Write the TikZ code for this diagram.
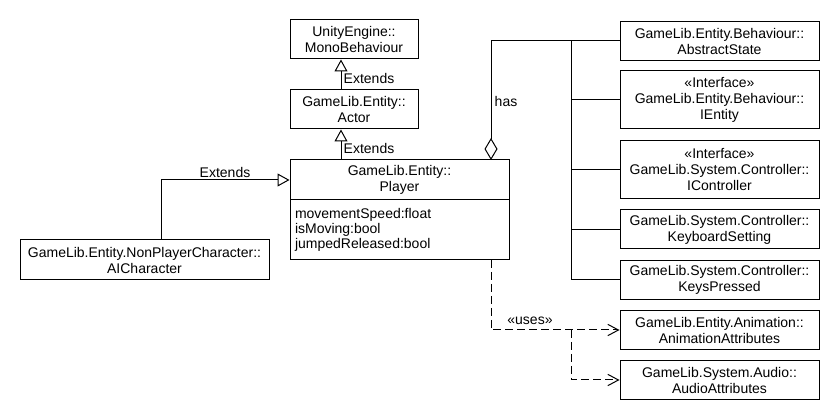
\documentclass[tikz,border=0pt]{standalone}
\usepackage{fontspec}
\setmainfont{Liberation Sans}
\usetikzlibrary{arrows.meta}
\begin{document}
\begin{tikzpicture}[x=0.75pt,y=-0.75pt,
  font=\fontsize{10.5}{12}\selectfont, line width=0.75pt,
  cls/.style={draw, align=center, inner sep=0pt, minimum height=29.25pt},
  mid/.style={cls, minimum width=96pt},
  rbox/.style={cls, minimum width=149.25pt},
  tall/.style={minimum height=43.5pt},
  ext/.style={-{Triangle[open,length=9pt,width=9.75pt]}},
  agg/.style={-{Diamond[open,length=16.5pt,width=9.75pt]}},
  dep/.style={dash pattern=on 6pt off 3pt, -{Straight Barb[length=8pt,width=8.5pt]}},
  lbl/.style={inner sep=1pt}]
\useasboundingbox (0,0) rectangle (840,420);
\fill[white] (0,0) rectangle (840,420);

\node[mid] (mono) at (354,39.5) {UnityEngine::\\MonoBehaviour};
\node[mid] (actor) at (354,109.5) {GameLib.Entity::\\Actor};
\node[cls, minimum width=164.25pt, minimum height=30pt] (player) at (399.5,180) {GameLib.Entity::\\Player};
\node[draw, minimum width=164.25pt, minimum height=45pt, text width=156.75pt, inner xsep=3.75pt, inner ysep=0pt, align=left,
  font=\fontsize{10.5}{11.25}\selectfont] (attr) at (399.5,230) {movementSpeed:float\\isMoving:bool\\jumpedReleased:bool};
\node[cls, minimum width=186.75pt, minimum height=30pt] (ai) at (144.5,260) {GameLib.Entity.NonPlayerCharacter::\\AICharacter};

\node[rbox] (abs) at (719.5,41) {GameLib.Entity.Behaviour::\\AbstractState};
\node[rbox, tall] (ientity) at (719.5,100) {«Interface»\\GameLib.Entity.Behaviour::\\IEntity};
\node[rbox, tall] (icontroller) at (719.5,170) {«Interface»\\GameLib.System.Controller::\\IController};
\node[rbox] (keyboard) at (719.5,229.5) {GameLib.System.Controller::\\KeyboardSetting};
\node[rbox] (keys) at (719.5,280) {GameLib.System.Controller::\\KeysPressed};
\node[rbox] (anim) at (719.5,330) {GameLib.Entity.Animation::\\AnimationAttributes};
\node[rbox] (audio) at (719.5,380) {GameLib.System.Audio::\\AudioAttributes};

% generalisations
\coordinate (e1) at (341,90);
\coordinate (e2) at (341,160);
\coordinate (e3) at (161,240);
\draw[ext] (e1) -- (e1 |- mono.south);
\draw[ext] (e2) -- (e2 |- actor.south);
\draw[ext] (e3) |- (player.west);
\node[lbl] (x1) at (369,78) {Extends};
\node[lbl] (x2) at (369,148) {Extends};
\node[lbl] (x3) at (225,172) {Extends};

% aggregation
\coordinate (hd) at (491,160);
\coordinate (tr) at (571,41);
\draw[agg] (abs.west) -| (hd);
\draw (tr) -- (tr |- keys.west);
\draw (ientity.west) -- (ientity.west -| tr);
\draw (icontroller.west) -- (icontroller.west -| tr);
\draw (keyboard.west) -- (keyboard.west -| tr);
\draw (keys.west) -- (keys.west -| tr);
\node[lbl] (has) at (506,101) {has};

% dependencies
\coordinate (ub) at (491,260);
\coordinate (u2) at (571,330);
\draw[dep] (ub) |- (anim.west);
\draw[dep] (u2) |- (audio.west);
\node[lbl] (uses) at (530,321) {«uses»};
\end{tikzpicture}
\end{document}
